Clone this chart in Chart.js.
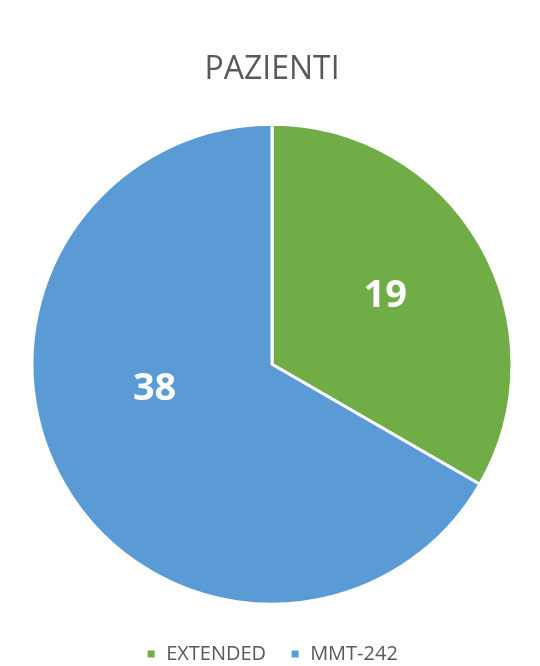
<!DOCTYPE html>
<html>
<head>
<meta charset="utf-8">
<script src="https://cdn.jsdelivr.net/npm/chart.js@4"></script>
<style>
  html, body { margin: 0; padding: 0; background: #fff; }
  #wrap { width: 540px; height: 666px; }
</style>
</head>
<body>
<div id="wrap"><canvas id="myChart" width="540" height="666"></canvas></div>
<script>
const chartTitle = 'PAZIENTI';
const categories = ['EXTENDED', 'MMT-242'];
const patients = [19, 38];
const sliceColors = ['#70AD47', '#5B9BD5'];

// label placement inside each slice (fraction of radius, angle shift in degrees)
const labelRadius = [0.55, 0.5];
const labelShift = [-1, 18];

const sliceLabels = {
    id: 'sliceLabels',
    afterDatasetsDraw(chart) {
        const ctx = chart.ctx;
        const meta = chart.getDatasetMeta(0);
        ctx.save();
        ctx.fillStyle = '#ffffff';
        ctx.font = 'bold 38px "Open Sans"';
        ctx.textAlign = 'center';
        ctx.textBaseline = 'middle';
        meta.data.forEach((arc, i) => {
            const p = arc.getProps(['x', 'y', 'startAngle', 'endAngle', 'outerRadius'], true);
            const mid = (p.startAngle + p.endAngle) / 2 + labelShift[i] * Math.PI / 180;
            const r = p.outerRadius * labelRadius[i];
            ctx.fillText(String(patients[i]), p.x + Math.cos(mid) * r, p.y + Math.sin(mid) * r);
        });
        ctx.restore();
    }
};

new Chart(document.getElementById('myChart').getContext('2d'), {
    type: 'pie',
    data: {
        labels: categories,
        datasets: [{
            data: patients,
            backgroundColor: sliceColors,
            borderColor: '#ffffff',
            borderWidth: 3,
            radius: 240
        }]
    },
    options: {
        responsive: false,
        animation: false,
        layout: { padding: { left: 4, right: 0, top: 0, bottom: -8 } },
        plugins: {
            title: {
                display: true,
                text: chartTitle,
                color: '#595959',
                font: { family: '"Open Sans"', size: 32, weight: 'normal' },
                padding: { top: 51, bottom: 19 }
            },
            legend: {
                position: 'bottom',
                labels: {
                    color: '#595959',
                    font: { family: '"Open Sans"', size: 20 },
                    usePointStyle: true,
                    pointStyle: 'rect',
                    boxWidth: 10,
                    boxHeight: 10,
                    padding: 24
                }
            },
            tooltip: { enabled: false }
        }
    },
    plugins: [sliceLabels]
});
</script>
</body>
</html>
